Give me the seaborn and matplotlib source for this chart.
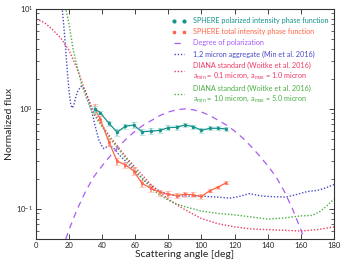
import numpy as np
import matplotlib
matplotlib.use("Agg")
import matplotlib.pyplot as plt
from matplotlib.lines import Line2D
import seaborn as sns

# measured phase functions (scattering angle in deg, normalized flux)
angle_obs = [35.6, 38.7, 44, 49, 54, 59, 64, 69.5, 75, 80, 85, 90, 95, 100, 105, 110, 115]
pol_flux = [1.0, 0.92, 0.72, 0.585, 0.67, 0.69, 0.59, 0.60, 0.61, 0.65, 0.655, 0.69, 0.665, 0.61, 0.64, 0.64, 0.63]
pol_err = [0.08, 0.04, 0.04, 0.05, 0.04, 0.045, 0.04, 0.04, 0.04, 0.035, 0.035, 0.035, 0.03, 0.03, 0.03, 0.03, 0.03]
tot_flux = [1.0, 0.80, 0.47, 0.30, 0.275, 0.24, 0.18, 0.16, 0.146, 0.14, 0.136, 0.14, 0.138, 0.133, 0.152, 0.165, 0.183]
tot_err = [0.12, 0.05, 0.04, 0.025, 0.02, 0.02, 0.015, 0.012, 0.01, 0.01, 0.008, 0.008, 0.008, 0.008, 0.006, 0.006, 0.006]

# degree of polarization (scaled to peak 1)
angle_dop = [18, 20, 25, 30, 35, 40, 45, 50, 55, 60, 65, 70, 75, 80, 85, 90,
             95, 100, 105, 110, 115, 120, 125, 130, 135, 140, 145, 150, 155, 160, 162]
dop = [0.05, 0.062, 0.10, 0.15, 0.21, 0.27, 0.34, 0.42, 0.51, 0.60, 0.69, 0.77, 0.86, 0.93, 0.98, 1.0,
       0.98, 0.93, 0.86, 0.77, 0.69, 0.60, 0.51, 0.42, 0.34, 0.27, 0.21, 0.15, 0.10, 0.062, 0.05]

# 1.2 micron aggregate (Min et al. 2016)
angle_min = [15, 16, 17, 18, 19, 20, 21, 22, 23, 24, 25, 27, 28, 30, 32, 34, 36, 38, 40, 41, 43, 45,
             48, 50, 55, 60, 65, 70, 75, 80, 85, 90, 100, 110, 117, 122, 129, 137, 145, 151, 158, 164, 170, 175, 180]
flux_min = [12, 9.5, 6.2, 3.8, 2.3, 1.5, 1.1, 1.02, 1.12, 1.3, 1.47, 1.67, 1.68, 1.5, 1.2, 0.9, 0.65, 0.49, 0.42, 0.40, 0.42, 0.43,
            0.39, 0.35, 0.29, 0.235, 0.195, 0.168, 0.15, 0.14, 0.135, 0.134, 0.134, 0.131, 0.128, 0.132, 0.142, 0.134, 0.132, 0.131, 0.14, 0.149, 0.153, 0.162, 0.175]

# DIANA standard, amin = 0.1, amax = 1.0 micron
angle_diana1 = [0, 3, 6, 10, 15, 20, 25, 30, 35, 40, 45, 50, 55, 60, 65, 70, 75, 80, 85, 90,
                100, 110, 120, 130, 140, 150, 160, 170, 180]
flux_diana1 = [7.8, 7.6, 7.1, 6.2, 5.1, 3.85, 2.5, 1.45, 0.93, 0.68, 0.52, 0.41, 0.32, 0.26, 0.21, 0.172, 0.145, 0.125, 0.11, 0.098,
               0.08, 0.071, 0.066, 0.063, 0.062, 0.061, 0.06, 0.062, 0.066]

# DIANA standard, amin = 1.0, amax = 5.0 micron
angle_diana2 = [17, 18, 20, 22.5, 25, 27.5, 30, 32.5, 35, 40, 45, 50, 55, 60, 65, 70, 75, 80, 85, 90,
                100, 110, 120, 130, 140, 150, 160, 167, 172, 176, 180]
flux_diana2 = [12, 10, 7.0, 3.9, 2.6, 1.76, 1.35, 1.05, 0.88, 0.66, 0.5, 0.39, 0.31, 0.245, 0.195, 0.158, 0.137, 0.122, 0.112, 0.105,
               0.095, 0.09, 0.087, 0.083, 0.079, 0.081, 0.085, 0.086, 0.095, 0.108, 0.125]

c_pol = "#13938a"
c_tot = "#ff6545"
c_dop = "#a85cf5"
c_min = "#4a4ac4"
c_d1 = "#ee3a63"
c_d2 = "#4aae44"
dot = (0, (1, 1.3))

sns.set_style("ticks")
plt.rcParams["font.family"] = ["Lato", "DejaVu Sans"]
plt.rcParams["mathtext.fontset"] = "custom"
plt.rcParams["mathtext.rm"] = "Lato"
plt.rcParams["mathtext.default"] = "regular"

fig = plt.figure(figsize=(3.46, 2.70), dpi=100)
ax = fig.add_axes([0.104, 0.115, 0.861, 0.852])

sns.lineplot(x=angle_dop, y=dop, ax=ax, color=c_dop, lw=0.9, linestyle=(0, (5, 4)))
sns.lineplot(x=angle_min, y=flux_min, ax=ax, color=c_min, lw=1.0, linestyle=dot)
sns.lineplot(x=angle_diana1, y=flux_diana1, ax=ax, color=c_d1, lw=1.0, linestyle=dot)
sns.lineplot(x=angle_diana2, y=flux_diana2, ax=ax, color=c_d2, lw=1.0, linestyle=dot)

ax.errorbar(angle_obs, tot_flux, yerr=tot_err, color=c_tot, ecolor="#ffa898", elinewidth=1.5,
            capsize=2.0, capthick=0.9, lw=0.9, marker="s", ms=2.0, mew=0.4, zorder=5)
ax.errorbar(angle_obs, pol_flux, yerr=pol_err, color=c_pol, ecolor="#8fd4cc", elinewidth=1.5,
            capsize=2.0, capthick=0.9, lw=0.9, marker="o", ms=2.0, mew=0.4, zorder=6)

ax.set_yscale("log")
ax.set_xlim(0, 180)
ax.set_ylim(0.05, 10)
ax.set_xticks(np.arange(0, 181, 20))
ax.tick_params(which="both", direction="in", top=True, right=True, labelsize=5.5, pad=2)
ax.tick_params(which="major", length=3.5, width=0.6)
ax.tick_params(which="minor", length=2, width=0.5)
for s in ax.spines.values():
    s.set_linewidth(0.8)
    s.set_color("#333333")
ax.set_xlabel("Scattering angle [deg]", fontsize=7.5, labelpad=1)
ax.set_ylabel("Normalized flux", fontsize=7.5, labelpad=2)

handles = [
    Line2D([], [], color=c_pol, marker="o", ms=2.0, ls="none"),
    Line2D([], [], color=c_tot, marker="s", ms=2.0, ls="none"),
    Line2D([], [], color=c_dop, lw=0.9, ls=(0, (5, 4))),
    Line2D([], [], color=c_min, lw=1.0, ls=dot),
    Line2D([], [], color=c_d1, lw=1.0, ls=dot),
    Line2D([], [], color=c_d2, lw=1.0, ls=dot),
]
labels = [
    "SPHERE polarized intensity phase function",
    "SPHERE total intensity phase function",
    "Degree of polarization",
    "1.2 micron aggregate (Min et al. 2016)",
    "DIANA standard (Woitke et al. 2016)\na$_{\\rm min}$ = 0.1 micron, a$_{\\rm max}$ = 1.0 micron",
    "DIANA standard (Woitke et al. 2016)\na$_{\\rm min}$ = 1.0 micron, a$_{\\rm max}$ = 5.0 micron",
]
leg = ax.legend(handles, labels, loc="upper right", bbox_to_anchor=(1.0, 0.985), frameon=False,
                fontsize=5.2, numpoints=2, handlelength=2.0, handletextpad=1.0, labelspacing=0.55,
                borderaxespad=0.3)
for t, c in zip(leg.get_texts(), [c_pol, c_tot, c_dop, c_min, c_d1, c_d2]):
    t.set_color(c)

fig.savefig("out.png", dpi=100)
